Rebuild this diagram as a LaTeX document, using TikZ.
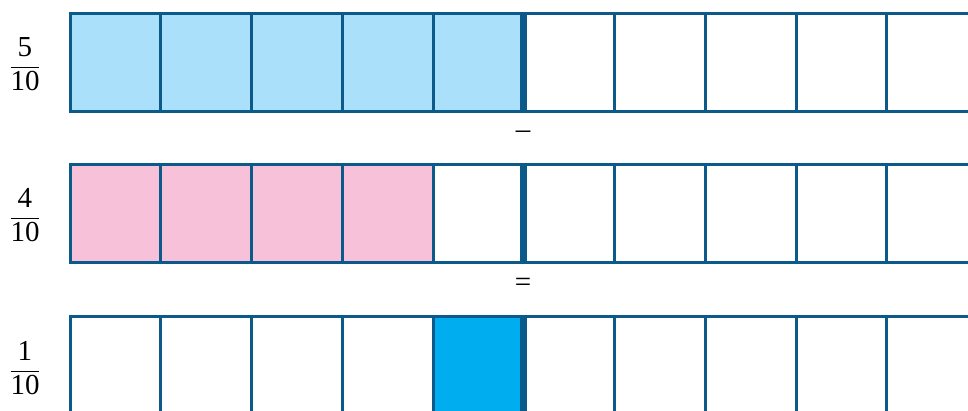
\documentclass[tikz,border=0pt]{standalone}
\usepackage{amsmath}
\usepackage{fontspec}
\setmainfont{Liberation Serif}
\definecolor{barline}{RGB}{12,90,138}
\definecolor{lightblue}{RGB}{171,224,250}
\definecolor{pinkfill}{RGB}{246,193,217}
\definecolor{cyanfill}{RGB}{0,174,239}
\newcommand{\fr}[2]{$\dfrac{\text{\,#1\,}}{\text{#2}}$}

\begin{document}
\begin{tikzpicture}[x=1pt,y=-1pt,
  bar/.style={draw=barline,line width=3pt},
  lab/.style={font=\fontsize{29}{32}\selectfont,inner sep=0pt}]
\useasboundingbox (0,0) rectangle (968,410);
\clip (0,0) rectangle (968,410);
{
% coloured parts
\foreach \i in {0,...,4}{
\fill[lightblue] (70+\i*90.75,13) rectangle ++(90.75,98);
}
\foreach \i in {0,...,3}{
\fill[pinkfill] (70+\i*90.75,164) rectangle ++(90.75,99);
}
\fill[cyanfill] (70+4*90.75,316) rectangle ++(90.75,100);
% the three strips
\foreach \y in {13,164,316}{
\draw[bar] (70,\y) rectangle (1100,\y+98);
\foreach \i in {1,...,9}{
\draw[bar] (70+\i*90.75,\y) -- ++(0,98);
}
\draw[bar,line width=7pt] (523.75,\y) -- ++(0,98);
}
}
\node[lab] (fracA) at (25,64) {\fr{5}{10}};
\node[lab] (fracB) at (25,215) {\fr{4}{10}};
\node[lab] (fracC) at (25,368) {\fr{1}{10}};
\node[lab] (minus) at (523,135) {–};
\node[lab] (equals) at (523,285) {=};
\end{tikzpicture}
\end{document}
